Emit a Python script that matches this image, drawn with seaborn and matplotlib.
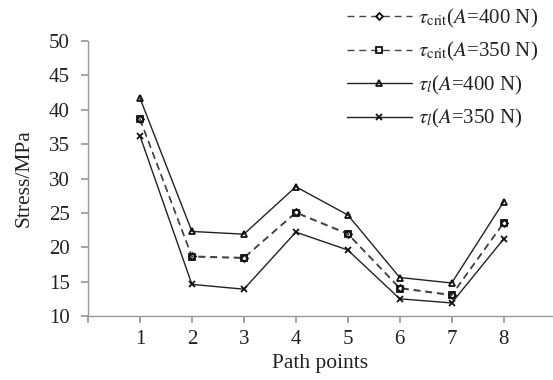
import matplotlib
matplotlib.use("Agg")
import matplotlib.pyplot as plt
import seaborn as sns

points = [1, 2, 3, 4, 5, 6, 7, 8]
tau_crit_400 = [38.7, 18.7, 18.5, 25.1, 22.0, 14.1, 13.1, 23.6]
tau_crit_350 = [38.6, 18.6, 18.4, 25.0, 21.9, 14.0, 13.0, 23.5]
tau_l_400 = [41.7, 22.3, 21.9, 28.8, 24.7, 15.6, 14.8, 26.6]
tau_l_350 = [36.2, 14.6, 13.9, 22.2, 19.6, 12.5, 11.9, 21.2]
labels = [r"$\tau_{\mathrm{crit}}$($\mathit{A}$=400 N)",
          r"$\tau_{\mathrm{crit}}$($\mathit{A}$=350 N)",
          r"$\tau_{\mathit{l}}$($\mathit{A}$=400 N)",
          r"$\tau_{\mathit{l}}$($\mathit{A}$=350 N)"]
yticks = [10, 15, 20, 25, 30, 35, 40, 45, 50]

sns.set_theme(style="white")
plt.rcParams['font.family'] = ['Liberation Serif', 'DejaVu Serif']
plt.rcParams['mathtext.fontset'] = 'stix'

fig = plt.figure(figsize=(5.53, 3.8), dpi=100)
ax = fig.add_axes([88/553, 1-316/380, 1-88/553, (316-41)/380])

styles = [
    (tau_crit_400, (0, (5, 3.5)), 'D', 3.5, '#444444'),
    (tau_crit_350, (0, (5, 3.5)), 's', 4, '#444444'),
    (tau_l_400, '-', '^', 5, '#222222'),
    (tau_l_350, '-', 'x', 5, '#222222'),
]
for (vals, ls, mk, ms, col), lab in zip(styles, labels):
    sns.lineplot(x=points, y=vals, ax=ax, color=col, linestyle=ls,
                 marker=mk, markersize=ms, markerfacecolor='none',
                 markeredgecolor='#111111', markeredgewidth=1.3,
                 linewidth=1.0, label=lab, legend=False)

ax.set_xlim(0, 8.95)
ax.set_ylim(10, 50)
ax.set_yticks(yticks)
ax.set_xticks(range(0, 9))
ax.set_xticklabels([''] + [str(p) for p in points])
ax.tick_params(axis='both', labelsize=15, colors='#222222', length=5,
               color='#999999', direction='out', bottom=True, left=True)
ax.tick_params(axis='y', pad=8)
ax.tick_params(axis='x', pad=5)
for s in ['top', 'right']:
    ax.spines[s].set_visible(False)
for s in ['left', 'bottom']:
    ax.spines[s].set_color('#999999')
    ax.spines[s].set_linewidth(1.0)

ax.set_ylabel('Stress/MPa', fontsize=15.5, color='#222222', labelpad=11)
ax.set_xlabel('Path points', fontsize=15.5, color='#222222', labelpad=4)

handles = ax.get_lines()[:4]
leg = fig.legend(handles, labels, loc='upper left',
                 bbox_to_anchor=(347/553, 1 - 7/380), frameon=False,
                 fontsize=15, handlelength=3.1, handletextpad=0.3,
                 labelspacing=0.5, borderaxespad=0, borderpad=0)
for t in leg.get_texts():
    t.set_color('#222222')

fig.savefig('out.png', dpi=100, facecolor='white')
